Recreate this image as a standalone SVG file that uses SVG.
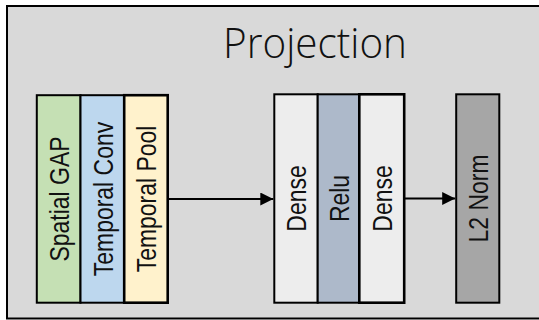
<svg xmlns="http://www.w3.org/2000/svg" width="539" height="320" viewBox="0 0 539 320">
  <defs>
    <marker id="arrow" markerUnits="userSpaceOnUse" markerWidth="14" markerHeight="14" refX="13" refY="6.5" orient="auto">
      <path d="M0,0 L13,6.5 L0,13 Z" fill="#000"/>
    </marker>
    <style>
      .blk { stroke: #000; stroke-width: 2; }
      .lbl { font-family: "Liberation Sans", Arial, sans-serif; font-size: 28px; fill: #111; text-anchor: middle; }
      .title { font-family: "Open Sans", "Noto Sans", sans-serif; font-weight: 300; font-size: 42px; fill: #111; }
      .conn { stroke: #000; stroke-width: 2; fill: none; }
    </style>
  </defs>

  <rect id="frame" x="7" y="6" width="540" height="312.5" fill="#d9d9d9" stroke="#000" stroke-width="2"/>
  <text class="title" x="223" y="58" textLength="184" lengthAdjust="spacingAndGlyphs">Projection</text>

  <g id="spatial-gap">
    <rect class="blk" x="36.8" y="95.2" width="43.7" height="207.5" fill="#c5e0b4"/>
    <text class="lbl" transform="translate(58.6,199) rotate(-90) scale(0.82,1)" y="10.3">Spatial GAP</text>
  </g>
  <g id="temporal-conv">
    <rect class="blk" x="80.5" y="95.2" width="43.7" height="207.5" fill="#bdd7ee"/>
    <text class="lbl" transform="translate(102.3,199) rotate(-90) scale(0.82,1)" y="10.3">Temporal Conv</text>
  </g>
  <g id="temporal-pool">
    <rect class="blk" x="124.2" y="95.2" width="43.5" height="207.5" fill="#fff2cc" style="stroke-width:2.6"/>
    <text class="lbl" transform="translate(146,199) rotate(-90) scale(0.82,1)" y="10.3">Temporal Pool</text>
  </g>

  <g id="dense-1">
    <rect class="blk" x="274.3" y="94.3" width="43.4" height="208.4" fill="#ededed"/>
    <text class="lbl" transform="translate(296,198.5) rotate(-90) scale(0.82,1)" y="10.3">Dense</text>
  </g>
  <g id="relu">
    <rect class="blk" x="317.7" y="94.3" width="41.6" height="208.4" fill="#adb9ca"/>
    <text class="lbl" transform="translate(338.5,198.5) rotate(-90) scale(0.82,1)" y="10.3">Relu</text>
  </g>
  <g id="dense-2">
    <rect class="blk" x="359.3" y="94.3" width="44.9" height="208.4" fill="#ededed" style="stroke-width:2.6"/>
    <text class="lbl" transform="translate(381.7,198.5) rotate(-90) scale(0.82,1)" y="10.3">Dense</text>
  </g>

  <g id="l2-norm">
    <rect class="blk" x="456.2" y="94.3" width="43.1" height="208.4" fill="#a6a6a6"/>
    <text class="lbl" transform="translate(477.7,198.5) rotate(-90) scale(0.82,1)" y="10.3">L2 Norm</text>
  </g>

  <g id="connectors">
    <line class="conn" x1="168.7" y1="199" x2="273.3" y2="199" marker-end="url(#arrow)"/>
    <line class="conn" x1="405" y1="198.5" x2="455.2" y2="198.5" marker-end="url(#arrow)"/>
  </g>
</svg>
